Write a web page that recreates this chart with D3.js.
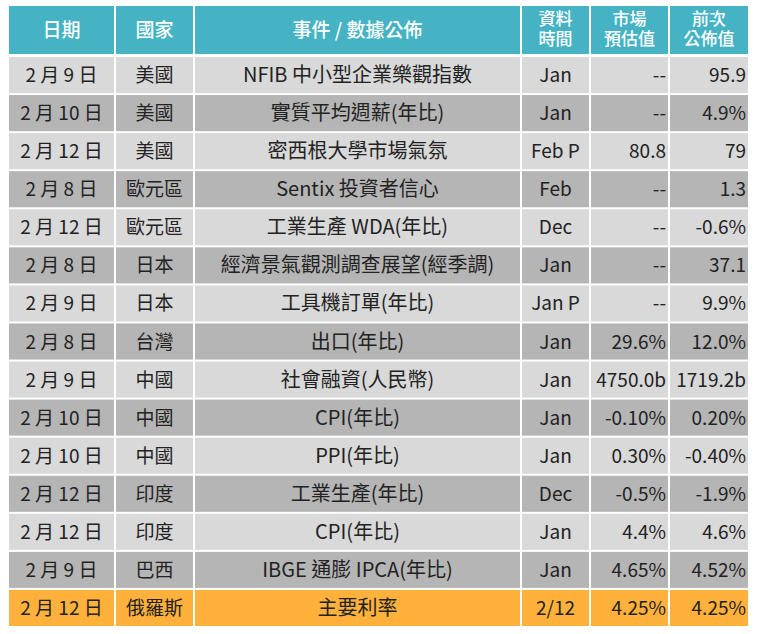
<!DOCTYPE html>
<html><head><meta charset="utf-8">
<script src="https://cdn.jsdelivr.net/npm/d3@7"></script>
<style>body{margin:0;background:#fff}</style>
</head><body>
<svg id="tbl" width="760" height="634"></svg>
<script>
const headers = [['日期'], ['國家'], ['事件 / 數據公佈'], ['資料', '時間'], ['市場', '預估值'], ['前次', '公佈值']];
const dates = ['2 月 9 日','2 月 10 日','2 月 12 日','2 月 8 日','2 月 12 日','2 月 8 日','2 月 9 日','2 月 8 日','2 月 9 日','2 月 10 日','2 月 10 日','2 月 12 日','2 月 12 日','2 月 9 日','2 月 12 日'];
const countries = ['美國','美國','美國','歐元區','歐元區','日本','日本','台灣','中國','中國','中國','印度','印度','巴西','俄羅斯'];
const events = ['NFIB  中小型企業樂觀指數','實質平均週薪(年比)','密西根大學市場氣氛','Sentix 投資者信心','工業生產 WDA(年比)','經濟景氣觀測調查展望(經季調)','工具機訂單(年比)','出口(年比)','社會融資(人民幣)','CPI(年比)','PPI(年比)','工業生產(年比)','CPI(年比)','IBGE 通膨 IPCA(年比)','主要利率'];
const periods = ['Jan','Jan','Feb P','Feb','Dec','Jan','Jan P','Jan','Jan','Jan','Jan','Dec','Jan','Jan','2/12'];
const forecasts = ['--','--','80.8','--','--','--','--','29.6%','4750.0b','-0.10%','0.30%','-0.5%','4.4%','4.65%','4.25%'];
const previous = ['95.9','4.9%','79','1.3','-0.6%','37.1','9.9%','12.0%','1719.2b','0.20%','-0.40%','-1.9%','4.6%','4.52%','4.25%'];

const colEdges = [8, 115, 194, 521, 590, 669, 749];
const aligns = ['middle','middle','middle','middle','end','end'];
const svg = d3.select('#tbl');
const font = '"Noto Sans CJK TC", "Open Sans", sans-serif';

const rows = d3.range(dates.length).map(i => [dates[i], countries[i], events[i], periods[i], forecasts[i], previous[i]]);
const y = d3.scaleBand().domain(d3.range(rows.length)).range([56, 627]).paddingInner(0);
const gap = 1;

// header
headers.forEach((h, c) => {
  const x0 = colEdges[c], x1 = colEdges[c + 1];
  svg.append('rect').attr('x', x0 + gap).attr('y', 6).attr('width', x1 - x0 - 2 * gap).attr('height', 48).attr('fill', '#45b3c4');
  h.forEach((t, k) => {
    svg.append('text').attr('x', (x0 + x1) / 2)
      .attr('y', h.length === 1 ? 37 : 25 + k * 20)
      .attr('text-anchor', 'middle').attr('fill', '#fff')
      .style('font-family', font).style('font-size', h.length === 1 ? '19px' : '17px').style('font-weight', '500')
      .text(t);
  });
});

rows.forEach((r, i) => {
  const fill = i === rows.length - 1 ? '#ffb13b' : (i % 2 === 0 ? '#d9d9d9' : '#b5b5b5');
  r.forEach((t, c) => {
    const x0 = colEdges[c], x1 = colEdges[c + 1];
    svg.append('rect').attr('x', x0 + gap).attr('y', y(i) + gap).attr('width', x1 - x0 - 2 * gap)
      .attr('height', y.bandwidth() - 2 * gap).attr('fill', fill);
    const tx = aligns[c] === 'end' ? x1 - 3 : (x0 + x1) / 2;
    svg.append('text').attr('x', tx).attr('y', y(i) + y.bandwidth() / 2 + 7)
      .attr('text-anchor', aligns[c]).attr('fill', '#222')
      .style('font-family', font).style('font-size', c === 2 ? '20px' : '19px')
      .text(t);
  });
});
</script>
</body></html>
